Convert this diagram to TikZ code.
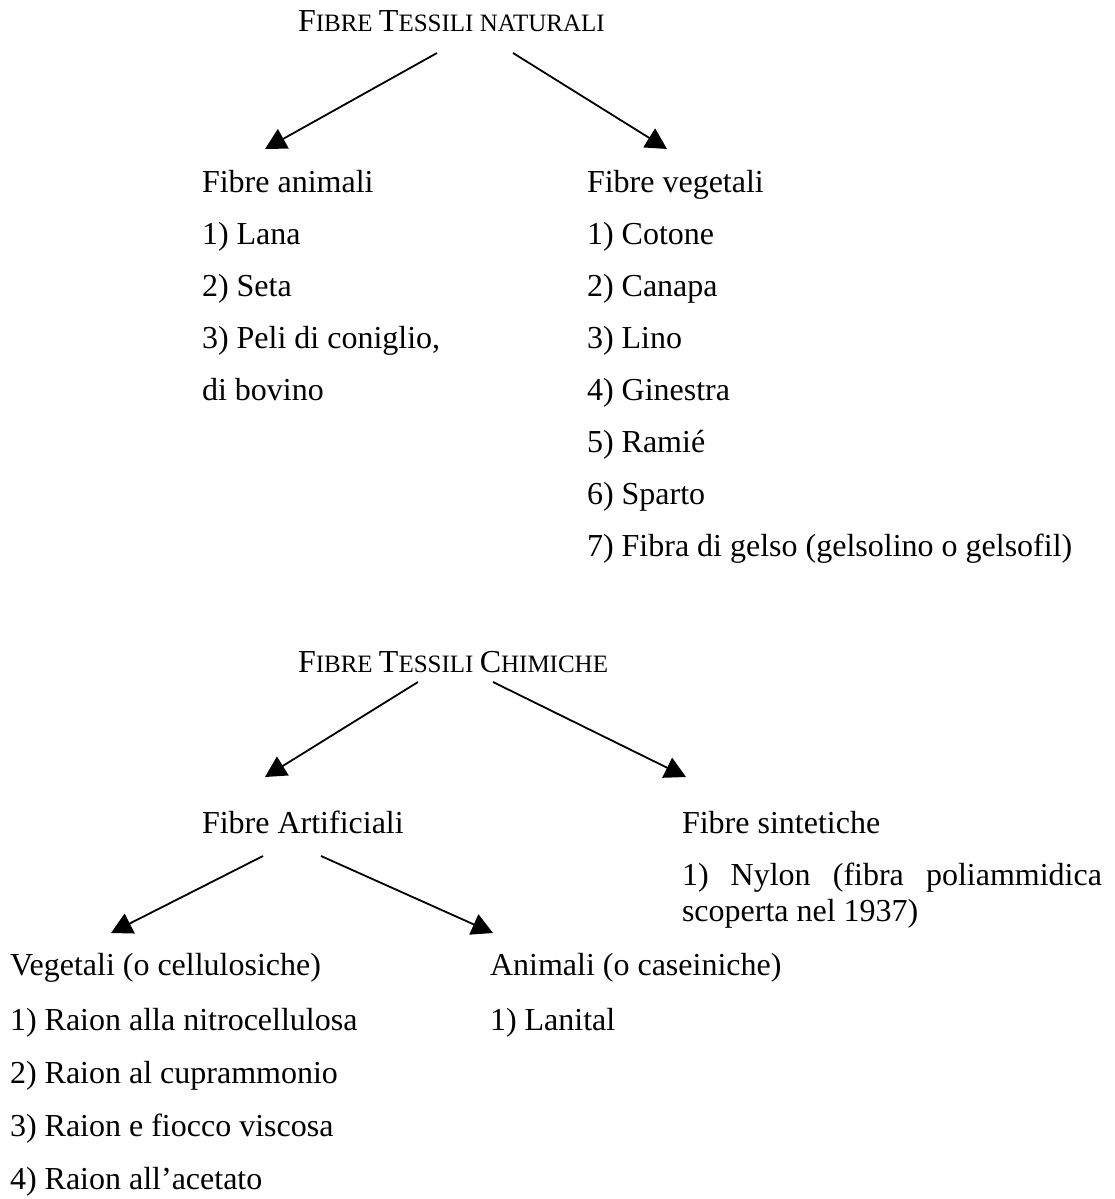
\documentclass[tikz,border=0pt]{standalone}
\usepackage{fontspec}
\setmainfont{Liberation Serif}
\usetikzlibrary{arrows.meta}
\newcommand\scfake[1]{{\fontsize{25}{30}\selectfont #1}}
\begin{document}
\begin{tikzpicture}[x=1pt,y=-1pt,
  lbl/.style={anchor=base west, inner sep=0pt, outer sep=0pt, font=\fontsize{32}{38}\selectfont},
  arr/.style={line width=1.8pt, -{Triangle[length=21pt,width=22pt]}}]
\useasboundingbox (0,0) rectangle (1114,1199);

% ---- section 1
\node[lbl] (nat) at (298,32) {F\scfake{IBRE }T\scfake{ESSILI NATURALI}};
\node[lbl] (anim) at (202,192) {Fibre animali};
\node[lbl] (an1) at (202,244) {1) Lana};
\node[lbl] (an2) at (202,296) {2) Seta};
\node[lbl] (an3) at (202,348) {3) Peli di coniglio,};
\node[lbl] (an4) at (202,400) {di bovino};

\node[lbl] (veg) at (587,192) {Fibre vegetali};
\node[lbl] (vg1) at (587,244) {1) Cotone};
\node[lbl] (vg2) at (587,296) {2) Canapa};
\node[lbl] (vg3) at (587,348) {3) Lino};
\node[lbl] (vg4) at (587,400) {4) Ginestra};
\node[lbl] (vg5) at (587,452) {5) Ramié};
\node[lbl] (vg6) at (587,504) {6) Sparto};
\node[lbl] (vg7) at (587,556) {7) Fibra di gelso (gelsolino o gelsofil)};

\coordinate (natL) at (437,53);
\coordinate (natR) at (513,53);
\coordinate (animT) at (265,149);
\coordinate (vegT) at (667,149);
\draw[arr] (natL) -- (animT);
\draw[arr] (natR) -- (vegT);

% ---- section 2
\node[lbl] (chim) at (298,672) {F\scfake{IBRE }T\scfake{ESSILI }C\scfake{HIMICHE}};
\node[lbl] (art) at (202,833) {Fibre Artificiali};
\node[lbl] (sin) at (682,833) {Fibre sintetiche};
\node[lbl] (ny1) at (682,885) {\makebox[420pt][s]{1) Nylon (fibra poliammidica}};
\node[lbl] (ny2) at (682,921) {scoperta nel 1937)};

\coordinate (chimL) at (418,682);
\coordinate (chimR) at (493,682);
\coordinate (artT) at (265,777);
\coordinate (sinT) at (686,777);
\draw[arr] (chimL) -- (artT);
\draw[arr] (chimR) -- (sinT);

% ---- section 3
\node[lbl] (cel) at (10,975) {Vegetali (o cellulosiche)};
\node[lbl] (ce1) at (10,1030) {1) Raion alla nitrocellulosa};
\node[lbl] (ce2) at (10,1083) {2) Raion al cuprammonio};
\node[lbl] (ce3) at (10,1136) {3) Raion e fiocco viscosa};
\node[lbl] (ce4) at (10,1189) {4) Raion all’acetato};
\node[lbl] (cas) at (490,975) {Animali (o caseiniche)};
\node[lbl] (ca1) at (490,1030) {1) Lanital};

\coordinate (artL) at (263,856);
\coordinate (artR) at (321,856);
\coordinate (celT) at (111,933);
\coordinate (casT) at (493,933);
\draw[arr] (artL) -- (celT);
\draw[arr] (artR) -- (casT);
\end{tikzpicture}
\end{document}
